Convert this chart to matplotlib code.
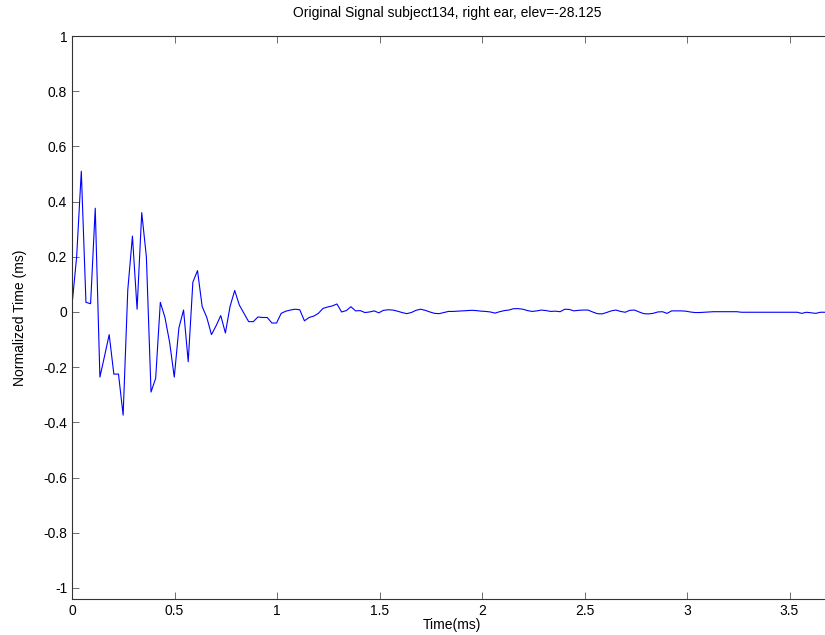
import numpy as np
import matplotlib.pyplot as plt
from matplotlib.ticker import FuncFormatter

plt.rcParams['font.family'] = ['Liberation Sans', 'DejaVu Sans']
plt.rcParams['axes.unicode_minus'] = False

fs = 44.1  # samples per ms
signal = [
    0.025, 0.20, 0.51, 0.035, 0.03, 0.376, -0.236, -0.16, -0.082, -0.225,
    -0.225, -0.374, 0.08, 0.275, 0.01, 0.36, 0.2, -0.29, -0.24, 0.035,
    -0.02, -0.11, -0.236, -0.057, 0.007, -0.18, 0.108, 0.15, 0.02, -0.02,
    -0.082, -0.05, -0.013, -0.076, 0.02, 0.078, 0.025, -0.005, -0.035, -0.035,
    -0.018, -0.02, -0.02, -0.04, -0.04, -0.005, 0.003, 0.007, 0.01, 0.008,
    -0.032, -0.02, -0.015, -0.005, 0.013, 0.018, 0.022, 0.029, 0.0, 0.005,
    0.019, 0.004, 0.005, -0.002, 0.0, 0.004, -0.003, 0.006, 0.008, 0.007,
    0.003, -0.002, -0.006, -0.002, 0.006, 0.01, 0.006, 0.0, -0.005, -0.006,
    -0.002, 0.002, 0.002, 0.003, 0.004, 0.005, 0.006, 0.005, 0.003, 0.002,
    0.0, -0.004, 0.001, 0.005, 0.007, 0.012, 0.012, 0.01, 0.005, 0.002,
    0.004, 0.007, 0.005, 0.002, 0.003, 0.001, 0.01, 0.009, 0.004, 0.006,
    0.007, 0.007, 0.0, -0.006, -0.007, -0.002, 0.004, 0.007, 0.002, -0.001,
    0.006, 0.007, 0.0, -0.006, -0.007, -0.005, 0.0, 0.001, -0.005, 0.004,
    0.004, 0.004, 0.003, 0.0, -0.002, -0.002, -0.001, 0.0, 0.001, 0.001,
    0.001, 0.001, 0.001, 0.001, -0.001, -0.001, -0.001, -0.001, -0.001, -0.001,
    -0.001, -0.001, -0.001, -0.001, -0.001, -0.001, -0.001, -0.005, -0.001, -0.003,
    -0.005, -0.001, -0.001, -0.001,
]
t = np.arange(len(signal)) / fs

fig = plt.figure(figsize=(8.25, 6.35), dpi=100)
ax = fig.add_axes([72/825, 36/635, 760/825, 563/635])

ax.plot(t, signal, color='#0000ff', linewidth=0.8)

ax.set_xlim(0, 760/205)
ax.set_ylim(-1.04, 1)
ax.set_xticks(np.arange(0, 3.6, 0.5))
ax.set_yticks(np.arange(-1, 1.01, 0.2))


def fmt_tick(v, pos):
    v = round(v, 2)
    if abs(v) < 1e-9:
        v = 0
    return '%g' % v


fmt = FuncFormatter(fmt_tick)
ax.xaxis.set_major_formatter(fmt)
ax.yaxis.set_major_formatter(fmt)
ax.tick_params(direction='in', length=5, width=0.6, top=True, right=False,
               labelsize=10, color='#555555')
ax.spines['right'].set_visible(False)
for s in ax.spines.values():
    s.set_linewidth(0.8)
    s.set_color('#333333')

ax.set_xlabel('Time(ms)', fontsize=10, labelpad=0)
ax.set_ylabel('Normalized Time (ms)', fontsize=10)
ax.yaxis.set_label_coords(-0.059, 0.5)
ax.set_title('Original Signal subject134, right ear, elev=-28.125',
             fontsize=10, x=(447 - 72) / 760, pad=14)

fig.savefig('out.png', dpi=100)
